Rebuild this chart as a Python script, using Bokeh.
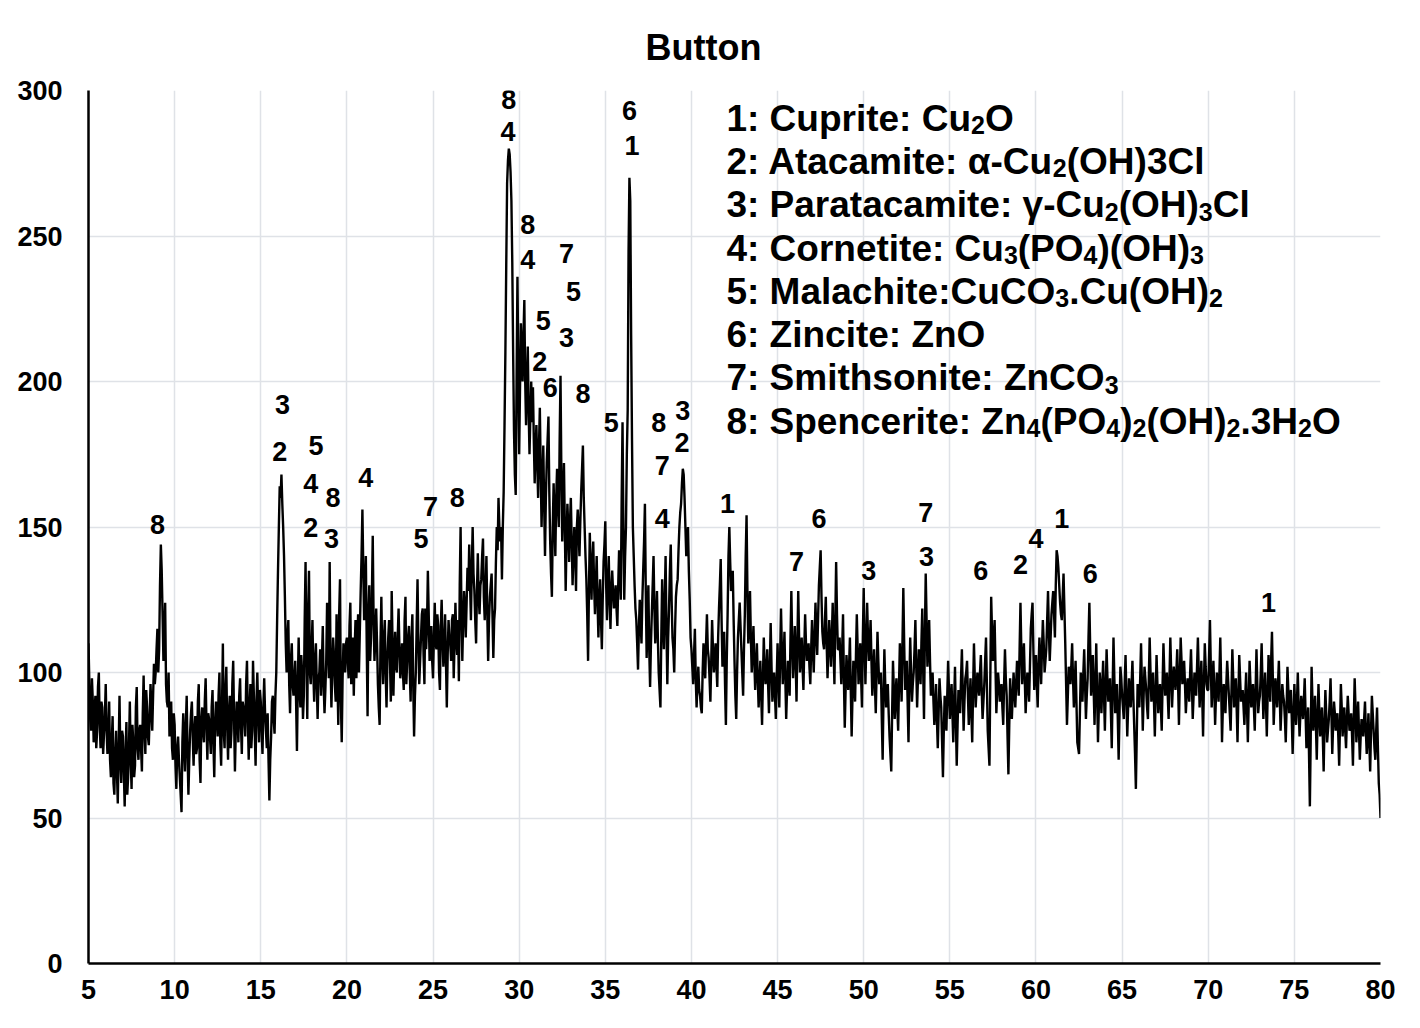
from bokeh.plotting import figure
from bokeh.models import FixedTicker, ColumnDataSource
from bokeh.core.properties import value
from bokeh.embed import file_html
from bokeh.resources import INLINE

# ---------------- data ----------------
# XRD intensity (counts), one row per degree 2-theta, samples at d.0, d.1 ... d.9
counts_by_degree = [
    [110, 84, 98, 76, 92, 80, 100, 74, 88, 79],      # 5
    [96, 72, 90, 64, 85, 58, 80, 55, 92, 62],        # 6
    [78, 54, 83, 64, 90, 60, 76, 68, 95, 70],        # 7
    [82, 66, 99, 72, 88, 75, 96, 80, 103, 100],      # 8
    [115, 108, 144, 120, 113, 96, 88, 78, 90, 70],   # 9
    [82, 60, 78, 64, 52, 86, 66, 92, 58, 80],        # 10
    [90, 68, 85, 74, 96, 62, 88, 76, 98, 70],        # 11
    [84, 72, 94, 64, 90, 78, 100, 68, 110, 74],      # 12
    [102, 70, 92, 80, 104, 66, 90, 76, 98, 72],      # 13
    [88, 78, 104, 70, 96, 80, 92, 68, 100, 76],      # 14
    [90, 72, 98, 80, 86, 56, 78, 92, 79, 100],       # 15
    [135, 164, 168, 150, 126, 100, 118, 86, 110, 92],  # 16
    [104, 73, 112, 88, 100, 92, 138, 84, 135, 96],   # 17
    [118, 90, 110, 84, 100, 92, 116, 86, 104, 112],  # 18
    [138, 88, 112, 96, 120, 82, 132, 76, 110, 100],  # 19
    [112, 98, 124, 104, 92, 118, 110, 100, 128, 156],  # 20
    [118, 140, 85, 130, 112, 147, 104, 122, 96, 82],  # 21
    [126, 96, 118, 88, 112, 104, 128, 92, 114, 100],  # 22
    [122, 98, 110, 94, 126, 104, 116, 90, 120, 78],  # 23
    [100, 132, 96, 112, 122, 96, 108, 135, 104, 116],  # 24
    [98, 124, 108, 116, 94, 125, 102, 120, 88, 118],  # 25
    [110, 118, 98, 124, 106, 97, 150, 104, 128, 112],  # 26
    [136, 144, 118, 150, 128, 110, 141, 120, 132, 146],  # 27
    [118, 140, 104, 126, 134, 105, 122, 150, 160, 145],  # 28
    [132, 162, 210, 268, 280, 272, 241, 183, 161, 236],  # 29
    [175, 220, 200, 228, 185, 212, 175, 200, 198, 165],  # 30
    [185, 160, 191, 150, 178, 140, 172, 188, 145, 126],  # 31
    [165, 140, 170, 150, 202, 145, 172, 128, 158, 138],  # 32
    [160, 130, 150, 128, 156, 140, 162, 178, 150, 132],  # 33
    [104, 148, 125, 145, 120, 140, 112, 132, 108, 138],  # 34
    [152, 118, 140, 115, 135, 122, 130, 116, 142, 125],  # 35
    [186, 125, 150, 190, 270, 216, 150, 130, 118, 101],  # 36
    [125, 110, 135, 158, 105, 130, 95, 120, 140, 110],  # 37
    [128, 100, 88, 132, 108, 140, 96, 122, 144, 112],  # 38
    [100, 126, 132, 150, 158, 170, 160, 140, 150, 125],  # 39
    [108, 96, 115, 88, 102, 92, 86, 110, 98, 120],   # 40
    [105, 90, 118, 100, 110, 95, 122, 139, 102, 114],  # 41
    [82, 120, 150, 128, 135, 104, 84, 112, 124, 108],  # 42
    [92, 120, 154, 110, 128, 100, 116, 94, 110, 88],  # 43
    [104, 82, 112, 96, 108, 86, 117, 90, 100, 84],   # 44
    [110, 88, 122, 96, 114, 84, 104, 92, 128, 98],   # 45
    [116, 90, 128, 100, 112, 94, 120, 104, 110, 96],  # 46
    [118, 100, 124, 106, 130, 142, 114, 108, 126, 98],  # 47
    [118, 102, 124, 96, 138, 108, 112, 96, 120, 81],  # 48
    [106, 94, 112, 78, 104, 90, 120, 96, 110, 88],   # 49
    [129, 96, 124, 104, 118, 92, 108, 86, 114, 96],  # 50
    [100, 70, 108, 88, 96, 78, 66, 104, 84, 98],     # 51
    [80, 110, 90, 129, 94, 104, 76, 112, 90, 100],   # 52
    [118, 88, 108, 96, 122, 84, 134, 102, 118, 92],  # 53
    [100, 82, 96, 74, 98, 88, 64, 92, 80, 104],      # 54
    [84, 96, 76, 102, 68, 94, 86, 108, 80, 98],      # 55
    [104, 82, 98, 76, 110, 88, 100, 92, 106, 84],    # 56
    [96, 112, 80, 68, 126, 104, 118, 86, 100, 90],   # 57
    [96, 82, 108, 92, 65, 98, 84, 100, 88, 104],     # 58
    [92, 124, 96, 110, 86, 100, 90, 115, 124, 94],   # 59
    [106, 88, 112, 96, 118, 100, 108, 128, 104, 120],  # 60
    [128, 112, 142, 136, 124, 118, 134, 110, 82, 102],  # 61
    [96, 110, 88, 104, 76, 72, 100, 90, 108, 84],    # 62
    [98, 124, 92, 106, 82, 110, 76, 100, 86, 104],   # 63
    [80, 108, 90, 98, 74, 112, 86, 96, 70, 102],     # 64
    [92, 84, 106, 78, 98, 88, 104, 82, 60, 96],      # 65
    [88, 110, 80, 102, 94, 84, 112, 90, 100, 78],    # 66
    [106, 86, 96, 80, 110, 92, 100, 84, 112, 88],    # 67
    [102, 94, 108, 82, 112, 96, 104, 86, 98, 90],    # 68
    [108, 84, 100, 92, 112, 88, 104, 78, 110, 96],   # 69
    [94, 118, 88, 104, 82, 100, 90, 112, 76, 96],    # 70
    [86, 104, 92, 80, 108, 88, 98, 76, 106, 90],     # 71
    [94, 82, 100, 76, 104, 88, 96, 80, 108, 86],     # 72
    [92, 110, 84, 100, 78, 106, 90, 114, 82, 98],    # 73
    [88, 104, 80, 96, 90, 76, 102, 86, 94, 72],      # 74
    [96, 82, 100, 78, 92, 84, 98, 74, 88, 54],       # 75
    [102, 80, 92, 70, 96, 78, 88, 66, 94, 76],       # 76
    [84, 98, 72, 90, 80, 86, 68, 96, 78, 88],        # 77
    [74, 92, 80, 86, 68, 98, 76, 90, 70, 84],        # 78
    [78, 90, 72, 86, 66, 92, 80, 70, 88, 62],        # 79
    [50],                                            # 80
]
# samples between them, at d.05, d.15 ... d.95
counts_half_step = [
    [96, 80, 90, 86, 74, 95, 82, 90, 72, 85],        # 5
    [80, 78, 70, 76, 62, 72, 66, 74, 70, 80],        # 6
    [66, 72, 58, 75, 70, 82, 64, 88, 74, 80],        # 7
    [74, 86, 80, 94, 78, 85, 88, 92, 96, 108],       # 8
    [100, 130, 135, 104, 124, 90, 100, 84, 74, 86],  # 9
    [68, 74, 70, 58, 76, 74, 82, 72, 70, 86],        # 10
    [78, 80, 72, 90, 70, 84, 80, 90, 82, 86],        # 11
    [78, 88, 76, 82, 86, 92, 76, 88, 80, 94],        # 12
    [82, 86, 74, 96, 84, 80, 86, 92, 82, 90],        # 13
    [84, 96, 84, 88, 74, 104, 80, 90, 86, 94],       # 14
    [80, 88, 86, 74, 70, 70, 90, 84, 92, 118],       # 15
    [150, 160, 158, 140, 110, 112, 96, 104, 96, 98],  # 16
    [90, 96, 94, 106, 84, 118, 106, 120, 100, 108],  # 17
    [100, 104, 96, 98, 108, 104, 96, 94, 124, 98],   # 18
    [104, 100, 106, 90, 98, 120, 90, 98, 104, 110],  # 19
    [104, 116, 96, 112, 108, 98, 120, 114, 140, 136],  # 20
    [128, 110, 120, 104, 126, 118, 112, 110, 88, 110],  # 21
    [106, 112, 100, 104, 118, 90, 110, 106, 102, 112],  # 22
    [108, 104, 100, 118, 96, 112, 100, 112, 96, 92],  # 23
    [116, 110, 104, 120, 106, 122, 116, 120, 110, 104],  # 24
    [112, 110, 120, 100, 116, 112, 108, 104, 106, 112],  # 25
    [104, 120, 110, 112, 118, 130, 120, 118, 122, 124],  # 26
    [128, 130, 136, 134, 118, 128, 126, 130, 140, 126],  # 27
    [128, 120, 118, 130, 120, 118, 138, 142, 150, 150],  # 28
    [150, 185, 240, 276, 278, 262, 210, 168, 200, 205],  # 29
    [198, 210, 216, 200, 200, 190, 188, 186, 180, 176],  # 30
    [172, 178, 170, 165, 158, 160, 180, 162, 134, 150],  # 31
    [152, 160, 158, 180, 168, 160, 150, 145, 150, 152],  # 32
    [145, 140, 142, 150, 148, 152, 170, 160, 140, 120],  # 33
    [128, 136, 138, 130, 130, 124, 125, 118, 125, 144],  # 34
    [130, 130, 126, 128, 128, 125, 122, 130, 134, 160],  # 35
    [150, 140, 175, 245, 262, 180, 140, 122, 110, 115],  # 36
    [118, 125, 145, 128, 118, 108, 110, 130, 122, 118],  # 37
    [112, 94, 112, 118, 125, 115, 112, 135, 125, 108],  # 38
    [115, 130, 142, 155, 165, 168, 150, 145, 135, 112],  # 39
    [102, 106, 98, 96, 94, 88, 100, 104, 110, 108],  # 40
    [98, 104, 108, 104, 102, 112, 130, 118, 108, 96],  # 41
    [104, 140, 138, 130, 118, 92, 100, 118, 116, 100],  # 42
    [108, 140, 128, 118, 112, 108, 104, 102, 98, 96],  # 43
    [92, 98, 102, 100, 96, 102, 102, 96, 92, 98],    # 44
    [98, 106, 108, 104, 98, 94, 98, 112, 110, 106],  # 45
    [104, 110, 112, 106, 102, 108, 110, 106, 102, 108],  # 46
    [108, 112, 114, 118, 136, 126, 110, 118, 110, 108],  # 47
    [110, 112, 108, 118, 120, 108, 104, 108, 98, 94],  # 48
    [100, 102, 94, 92, 96, 106, 108, 102, 98, 112],  # 49
    [110, 110, 112, 110, 104, 100, 96, 100, 104, 98],  # 50
    [84, 92, 96, 92, 86, 72, 86, 94, 92, 88],        # 51
    [96, 100, 110, 110, 98, 90, 96, 100, 96, 108],   # 52
    [102, 98, 102, 110, 102, 112, 118, 110, 104, 96],  # 53
    [90, 88, 84, 86, 92, 76, 80, 86, 92, 94],        # 54
    [90, 86, 90, 84, 82, 90, 98, 94, 90, 100],       # 55
    [92, 90, 86, 94, 98, 94, 96, 100, 94, 90],       # 56
    [104, 96, 74, 98, 114, 112, 102, 94, 96, 92],    # 57
    [88, 96, 98, 78, 82, 90, 92, 94, 96, 98],        # 58
    [108, 108, 104, 98, 94, 96, 102, 120, 108, 100],  # 59
    [96, 102, 104, 108, 110, 104, 118, 114, 112, 124],  # 60
    [120, 130, 140, 130, 120, 126, 122, 96, 92, 98],  # 61
    [102, 98, 96, 90, 74, 86, 96, 100, 96, 92],      # 62
    [112, 108, 98, 94, 96, 92, 88, 94, 96, 92],      # 63
    [94, 98, 94, 86, 94, 98, 92, 84, 86, 98],        # 64
    [88, 96, 92, 88, 94, 96, 92, 72, 78, 92],        # 65
    [98, 96, 92, 98, 88, 98, 100, 96, 90, 92],       # 66
    [96, 92, 88, 96, 100, 96, 92, 98, 100, 96],      # 67
    [98, 100, 96, 98, 104, 100, 96, 92, 94, 100],    # 68
    [96, 92, 96, 102, 100, 96, 92, 96, 102, 94],     # 69
    [106, 102, 96, 94, 92, 96, 100, 96, 88, 90],     # 70
    [96, 98, 86, 94, 98, 94, 88, 92, 98, 92],        # 71
    [88, 92, 88, 90, 96, 92, 88, 94, 96, 90],        # 72
    [100, 96, 92, 90, 92, 98, 104, 98, 90, 94],      # 73
    [96, 92, 88, 92, 84, 88, 94, 90, 84, 84],        # 74
    [88, 90, 88, 86, 88, 90, 86, 82, 72, 78],        # 75
    [90, 86, 82, 84, 86, 84, 78, 82, 86, 80],        # 76
    [90, 86, 82, 86, 84, 78, 82, 88, 84, 80],        # 77
    [84, 86, 82, 78, 84, 88, 82, 80, 78, 82],        # 78
    [84, 80, 78, 76, 80, 86, 74, 80, 74, 58],        # 79
]
first_degree = 5

x_ticks = [5, 10, 15, 20, 25, 30, 35, 40, 45, 50, 55, 60, 65, 70, 75, 80]
y_ticks = [0, 50, 100, 150, 200, 250, 300]

title_text = "Button"

# phase-number labels over peaks
peak_text = ["8",
             "3", "2", "5", "4", "8", "2", "3",
             "4",
             "7", "5", "8",
             "8", "4",
             "8", "4", "7", "5", "5", "3", "2", "6", "8",
             "5",
             "6", "1",
             "8", "3", "2", "7", "4",
             "1",
             "6", "7",
             "3",
             "7", "3",
             "6", "2", "4", "1", "6",
             "1"]
peak_x = [9.0,
          16.26, 16.1, 18.2, 17.9, 19.2, 17.9, 19.1,
          21.1,
          24.85, 24.3, 26.4,
          29.4, 29.35,
          30.5, 30.5, 32.75, 33.15, 31.4, 32.75, 31.2, 31.8, 33.7,
          35.35,
          36.4, 36.55,
          38.1, 39.5, 39.45, 38.3, 38.3,
          42.1,
          47.4, 46.1,
          50.3,
          53.6, 53.65,
          56.8, 59.1, 60.0, 61.5, 63.15,
          73.5]
peak_y = [151,
          192, 176, 178, 165, 160, 150, 146,
          167,
          157, 146, 160,
          297, 286,
          254, 242, 244, 231, 221, 215, 207, 198, 196,
          186,
          293, 281,
          186, 190, 179, 171, 153,
          158,
          153, 138,
          135,
          155, 140,
          135, 137, 146, 153, 134,
          124]

# legend lines as (text, is_subscript) pieces
legend_lines = [
    [("1: Cuprite: Cu", 0), ("2", 1), ("O", 0)],
    [("2: Atacamite: \u03b1-Cu", 0), ("2", 1), ("(OH)3Cl", 0)],
    [("3: Paratacamite: \u03b3-Cu", 0), ("2", 1), ("(OH)", 0), ("3", 1), ("Cl", 0)],
    [("4: Cornetite: Cu", 0), ("3", 1), ("(PO", 0), ("4", 1), (")(OH)", 0), ("3", 1)],
    [("5: Malachite:CuCO", 0), ("3", 1), (".Cu(OH)", 0), ("2", 1)],
    [("6: Zincite: ZnO", 0)],
    [("7: Smithsonite: ZnCO", 0), ("3", 1)],
    [("8: Spencerite: Zn", 0), ("4", 1), ("(PO", 0), ("4", 1), (")", 0), ("2", 1),
     ("(OH)", 0), ("2", 1), (".3H", 0), ("2", 1), ("O", 0)],
]
legend_x = 42.03
legend_baseline_top = 290.5
legend_step = 14.88

# ---------------- build ----------------
two_theta = []
intensity = []
for i, row in enumerate(counts_by_degree):
    half = counts_half_step[i] if i < len(counts_half_step) else []
    for j, v in enumerate(row):
        two_theta.append(round(first_degree + i + j / 10.0, 2))
        intensity.append(v)
        if j < len(half):
            two_theta.append(round(first_degree + i + j / 10.0 + 0.05, 2))
            intensity.append(half[j])

FONT = "Liberation Sans"
MAIN_PX = 37.0
SUB_PX = 25.0
SUB_DROP = 2.4            # data units the subscript baseline is lowered
PX_PER_X = 1292 / 75.0    # frame pixels per degree

# Arial / Liberation Sans Bold advance widths (em/1000)
adv = {c: 556 for c in "0123456789"}
adv.update({":": 333, " ": 278, "(": 333, ")": 333, ".": 278, "-": 333,
            "A": 722, "C": 722, "H": 722, "M": 833, "O": 778, "P": 667,
            "S": 667, "Z": 611,
            "a": 556, "c": 556, "e": 556, "h": 611, "i": 278, "l": 278,
            "m": 889, "n": 611, "o": 611, "p": 611, "r": 389, "s": 556,
            "t": 333, "u": 611, "\u03b1": 600, "\u03b3": 556})

def width_px(s, size):
    return sum(adv.get(ch, 556) for ch in s) / 1000.0 * size

main_x, main_y, main_t = [], [], []
sub_x, sub_y, sub_t = [], [], []
for k, pieces in enumerate(legend_lines):
    base = legend_baseline_top - k * legend_step
    cur = 0.0
    for txt, is_sub in pieces:
        xx = legend_x + cur / PX_PER_X
        if is_sub:
            sub_x.append(xx); sub_y.append(base - SUB_DROP); sub_t.append(txt)
            cur += width_px(txt, SUB_PX)
        else:
            main_x.append(xx); main_y.append(base); main_t.append(txt)
            cur += width_px(txt, MAIN_PX)

p = figure(width=1412, height=1020, x_range=(5, 80), y_range=(0, 300),
           output_backend="svg", toolbar_location=None,
           min_border_left=88, min_border_right=32,
           min_border_top=90, min_border_bottom=57)

p.title.text = title_text
p.title.align = "left"
p.title.offset = 557
p.title.standoff = 45
p.title.text_font = FONT
p.title.text_font_size = "36px"
p.title.text_font_style = "bold"
p.title.text_color = "black"

p.outline_line_color = None
p.background_fill_color = "white"
p.border_fill_color = "white"

p.xaxis.ticker = FixedTicker(ticks=x_ticks)
p.yaxis.ticker = FixedTicker(ticks=y_ticks)
for ax in (p.xaxis, p.yaxis):
    ax.axis_line_color = "black"
    ax.axis_line_width = 2.5
    ax.major_tick_line_color = None
    ax.minor_tick_line_color = None
    ax.major_label_text_font = FONT
    ax.major_label_text_font_size = "27px"
    ax.major_label_text_font_style = "bold"
    ax.major_label_text_color = "black"
p.xaxis.major_label_standoff = 10
p.yaxis.major_label_standoff = 20

p.xgrid.ticker = FixedTicker(ticks=x_ticks)
p.ygrid.ticker = FixedTicker(ticks=y_ticks)
for g in (p.xgrid, p.ygrid):
    g.grid_line_color = "#dfe2e7"
    g.grid_line_width = 1.5

src = ColumnDataSource(dict(x=two_theta, y=intensity))
p.line("x", "y", source=src, line_color="black", line_width=2.4)

lab = ColumnDataSource(dict(x=peak_x, y=peak_y, t=peak_text))
p.text("x", "y", text="t", source=lab, text_align="center", text_baseline="middle",
       text_font=value(FONT), text_font_size="27px", text_font_style="bold",
       text_color="black")

for xs, ys, ts, size in ((main_x, main_y, main_t, MAIN_PX), (sub_x, sub_y, sub_t, SUB_PX)):
    s = ColumnDataSource(dict(x=xs, y=ys, t=ts))
    p.text("x", "y", text="t", source=s, text_align="left", text_baseline="alphabetic",
           text_font=value(FONT), text_font_size="%dpx" % size, text_font_style="bold",
           text_color="black")

open("out.html", "w").write(file_html(p, INLINE))
